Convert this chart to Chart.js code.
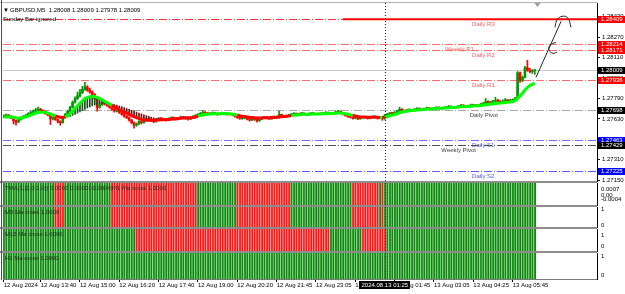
<!DOCTYPE html>
<html>
<head>
<meta charset="utf-8">
<title>GBPUSD,M5</title>
<script src="https://cdn.jsdelivr.net/npm/chart.js@4.4.1/dist/chart.umd.min.js"></script>
<style>
  body { margin: 0; background: #fff; }
  #wrap { position: relative; width: 625px; height: 294px; overflow: hidden; background: #fff; }
  #wrap canvas { position: absolute; left: 0; }
  .sep { position: absolute; background: #8c8c8c; }
</style>
</head>
<body>
<div id="wrap">
  <canvas id="main" width="625" height="186" style="top:0;width:625px;height:186px"></canvas>
  <canvas id="p0" width="625" height="30" style="top:179px;width:625px;height:30px"></canvas>
  <canvas id="p1" width="625" height="28" style="top:203px;width:625px;height:28px"></canvas>
  <canvas id="p2" width="625" height="30" style="top:225px;width:625px;height:30px"></canvas>
  <canvas id="p3" width="625" height="45" style="top:249px;width:625px;height:45px"></canvas>
  <div class="sep" style="left:0;top:181px;width:597px;height:2px"></div>
  <div class="sep" style="left:0;top:205px;width:597px;height:2px"></div>
  <div class="sep" style="left:0;top:227px;width:597px;height:2px"></div>
  <div class="sep" style="left:0;top:251px;width:597px;height:2px"></div>
  <div class="sep" style="left:0;top:2px;width:597px;height:1px;background:#b4b4b4"></div>
  <div class="sep" style="left:1px;top:0;width:1px;height:280px;background:#505050"></div>
</div>
<script>
// --- data (GBPUSD M5, 12 Aug 12:25 .. 13 Aug 06:25) ---
const symbolName = 'GBPUSD,M5';

const opens = [1.27648,1.27655,1.27660,1.27650,1.27640,1.27615,1.27605,1.27625,1.27640,1.27650,
1.27660,1.27672,1.27680,1.27690,1.27700,1.27705,1.27695,1.27688,1.27670,1.27660,
1.27630,1.27640,1.27625,1.27610,1.27600,1.27640,1.27665,1.27690,1.27720,1.27760,
1.27790,1.27810,1.27835,1.27860,1.27880,1.27855,1.27840,1.27820,1.27790,1.27720,
1.27740,1.27760,1.27745,1.27735,1.27720,1.27705,1.27690,1.27700,1.27680,1.27665,
1.27650,1.27640,1.27620,1.27600,1.27580,1.27590,1.27610,1.27600,1.27620,1.27630,
1.27625,1.27615,1.27610,1.27620,1.27635,1.27630,1.27625,1.27620,1.27632,1.27640,
1.27635,1.27628,1.27638,1.27645,1.27640,1.27632,1.27628,1.27638,1.27650,1.27658,
1.27665,1.27672,1.27680,1.27675,1.27668,1.27672,1.27678,1.27670,1.27665,1.27672,
1.27676,1.27670,1.27664,1.27668,1.27660,1.27650,1.27640,1.27632,1.27635,1.27640,
1.27628,1.27620,1.27630,1.27625,1.27615,1.27628,1.27640,1.27645,1.27635,1.27630,
1.27642,1.27648,1.27640,1.27665,1.27650,1.27645,1.27655,1.27660,1.27668,1.27672,
1.27665,1.27670,1.27675,1.27668,1.27662,1.27670,1.27675,1.27670,1.27665,1.27672,
1.27668,1.27675,1.27680,1.27672,1.27668,1.27675,1.27685,1.27690,1.27675,1.27665,
1.27655,1.27648,1.27642,1.27635,1.27640,1.27630,1.27638,1.27645,1.27640,1.27635,
1.27642,1.27650,1.27645,1.27635,1.27640,1.27630,1.27660,1.27668,1.27675,1.27672,
1.27680,1.27690,1.27705,1.27695,1.27690,1.27698,1.27700,1.27695,1.27705,1.27712,
1.27706,1.27700,1.27708,1.27715,1.27710,1.27705,1.27712,1.27720,1.27714,1.27710,
1.27716,1.27722,1.27728,1.27720,1.27716,1.27722,1.27730,1.27736,1.27730,1.27726,
1.27732,1.27740,1.27735,1.27732,1.27738,1.27745,1.27750,1.27765,1.27755,1.27762,
1.27768,1.27775,1.27768,1.27762,1.27770,1.27778,1.27770,1.27775,1.27780,1.27792,
1.27990,1.27930,1.27955,1.28030,1.28010,1.28000,1.28008];

const highs = [1.27662,1.27668,1.27664,1.27655,1.27645,1.27622,1.27630,1.27645,1.27656,1.27666,
1.27678,1.27688,1.27700,1.27712,1.27722,1.27712,1.27700,1.27692,1.27675,1.27664,
1.27648,1.27646,1.27630,1.27615,1.27645,1.27672,1.27698,1.27728,1.27770,1.27802,
1.27840,1.27860,1.27885,1.27916,1.27890,1.27870,1.27850,1.27828,1.27795,1.27752,
1.27770,1.27768,1.27752,1.27742,1.27726,1.27712,1.27708,1.27704,1.27686,1.27670,
1.27656,1.27645,1.27626,1.27606,1.27598,1.27616,1.27615,1.27626,1.27636,1.27636,
1.27630,1.27620,1.27626,1.27640,1.27640,1.27636,1.27630,1.27638,1.27646,1.27645,
1.27640,1.27642,1.27652,1.27650,1.27645,1.27638,1.27644,1.27656,1.27664,1.27672,
1.27680,1.27697,1.27686,1.27680,1.27678,1.27684,1.27682,1.27675,1.27678,1.27682,
1.27680,1.27674,1.27674,1.27670,1.27664,1.27654,1.27645,1.27640,1.27646,1.27644,
1.27632,1.27636,1.27634,1.27628,1.27634,1.27646,1.27650,1.27648,1.27640,1.27646,
1.27654,1.27652,1.27690,1.27668,1.27655,1.27660,1.27666,1.27672,1.27678,1.27676,
1.27675,1.27680,1.27678,1.27672,1.27675,1.27680,1.27678,1.27674,1.27676,1.27676,
1.27680,1.27686,1.27684,1.27676,1.27680,1.27690,1.27697,1.27692,1.27680,1.27668,
1.27660,1.27652,1.27646,1.27645,1.27644,1.27642,1.27650,1.27650,1.27645,1.27648,
1.27655,1.27654,1.27648,1.27646,1.27644,1.27665,1.27674,1.27680,1.27682,1.27686,
1.27696,1.27721,1.27710,1.27700,1.27704,1.27708,1.27705,1.27710,1.27718,1.27716,
1.27710,1.27714,1.27722,1.27720,1.27714,1.27718,1.27726,1.27724,1.27718,1.27722,
1.27728,1.27735,1.27732,1.27724,1.27728,1.27736,1.27744,1.27740,1.27734,1.27738,
1.27746,1.27745,1.27740,1.27744,1.27752,1.27758,1.27790,1.27770,1.27770,1.27775,
1.27799,1.27782,1.27772,1.27778,1.27790,1.27782,1.27782,1.27786,1.27798,1.28000,
1.27995,1.27965,1.28040,1.28088,1.28025,1.28015,1.28009];

const lows = [1.27642,1.27650,1.27645,1.27632,1.27590,1.27580,1.27600,1.27620,1.27636,1.27646,
1.27655,1.27668,1.27676,1.27686,1.27694,1.27690,1.27680,1.27664,1.27652,1.27585,
1.27622,1.27618,1.27598,1.27580,1.27596,1.27636,1.27660,1.27686,1.27715,1.27752,
1.27780,1.27800,1.27828,1.27852,1.27845,1.27830,1.27810,1.27780,1.27690,1.27712,
1.27735,1.27738,1.27728,1.27712,1.27698,1.27682,1.27684,1.27672,1.27658,1.27642,
1.27632,1.27612,1.27592,1.27557,1.27572,1.27585,1.27590,1.27596,1.27614,1.27618,
1.27608,1.27600,1.27604,1.27616,1.27624,1.27618,1.27612,1.27616,1.27628,1.27628,
1.27620,1.27622,1.27634,1.27634,1.27626,1.27620,1.27624,1.27634,1.27645,1.27654,
1.27660,1.27668,1.27670,1.27662,1.27664,1.27668,1.27664,1.27658,1.27660,1.27668,
1.27664,1.27658,1.27660,1.27654,1.27644,1.27634,1.27626,1.27626,1.27630,1.27622,
1.27612,1.27616,1.27618,1.27604,1.27610,1.27624,1.27636,1.27630,1.27624,1.27626,
1.27638,1.27634,1.27636,1.27645,1.27640,1.27640,1.27650,1.27655,1.27664,1.27660,
1.27660,1.27665,1.27662,1.27656,1.27658,1.27666,1.27664,1.27660,1.27662,1.27662,
1.27664,1.27670,1.27668,1.27662,1.27664,1.27670,1.27680,1.27670,1.27660,1.27650,
1.27642,1.27636,1.27628,1.27630,1.27624,1.27626,1.27634,1.27634,1.27628,1.27630,
1.27638,1.27640,1.27628,1.27630,1.27619,1.27626,1.27655,1.27662,1.27666,1.27668,
1.27676,1.27686,1.27690,1.27684,1.27686,1.27692,1.27690,1.27690,1.27700,1.27700,
1.27694,1.27696,1.27704,1.27705,1.27700,1.27702,1.27708,1.27708,1.27704,1.27706,
1.27712,1.27718,1.27714,1.27710,1.27712,1.27718,1.27726,1.27724,1.27720,1.27722,
1.27728,1.27730,1.27726,1.27728,1.27734,1.27740,1.27746,1.27750,1.27750,1.27756,
1.27762,1.27762,1.27756,1.27758,1.27765,1.27764,1.27766,1.27768,1.27775,1.27786,
1.27915,1.27920,1.27950,1.28002,1.27990,1.27985,1.27978];

const closes = [1.27655,1.27660,1.27650,1.27640,1.27615,1.27605,1.27625,1.27640,1.27650,1.27660,
1.27672,1.27680,1.27690,1.27700,1.27705,1.27695,1.27688,1.27670,1.27660,1.27630,
1.27640,1.27625,1.27610,1.27600,1.27640,1.27665,1.27690,1.27720,1.27760,1.27790,
1.27810,1.27835,1.27860,1.27880,1.27855,1.27840,1.27820,1.27790,1.27720,1.27740,
1.27760,1.27745,1.27735,1.27720,1.27705,1.27690,1.27700,1.27680,1.27665,1.27650,
1.27640,1.27620,1.27600,1.27580,1.27590,1.27610,1.27600,1.27620,1.27630,1.27625,
1.27615,1.27610,1.27620,1.27635,1.27630,1.27625,1.27620,1.27632,1.27640,1.27635,
1.27628,1.27638,1.27645,1.27640,1.27632,1.27628,1.27638,1.27650,1.27658,1.27665,
1.27672,1.27680,1.27675,1.27668,1.27672,1.27678,1.27670,1.27665,1.27672,1.27676,
1.27670,1.27664,1.27668,1.27660,1.27650,1.27640,1.27632,1.27635,1.27640,1.27628,
1.27620,1.27630,1.27625,1.27615,1.27628,1.27640,1.27645,1.27635,1.27630,1.27642,
1.27648,1.27640,1.27665,1.27650,1.27645,1.27655,1.27660,1.27668,1.27672,1.27665,
1.27670,1.27675,1.27668,1.27662,1.27670,1.27675,1.27670,1.27665,1.27672,1.27668,
1.27675,1.27680,1.27672,1.27668,1.27675,1.27685,1.27690,1.27675,1.27665,1.27655,
1.27648,1.27642,1.27635,1.27640,1.27630,1.27638,1.27645,1.27640,1.27635,1.27642,
1.27650,1.27645,1.27635,1.27640,1.27630,1.27660,1.27668,1.27675,1.27672,1.27680,
1.27690,1.27705,1.27695,1.27690,1.27698,1.27700,1.27695,1.27705,1.27712,1.27706,
1.27700,1.27708,1.27715,1.27710,1.27705,1.27712,1.27720,1.27714,1.27710,1.27716,
1.27722,1.27728,1.27720,1.27716,1.27722,1.27730,1.27736,1.27730,1.27726,1.27732,
1.27740,1.27735,1.27732,1.27738,1.27745,1.27750,1.27765,1.27755,1.27762,1.27768,
1.27775,1.27768,1.27762,1.27770,1.27778,1.27770,1.27775,1.27780,1.27792,1.27990,
1.27930,1.27955,1.28030,1.28010,1.28000,1.28008,1.28009];

// fast moving average (thick line)
const maValues = [1.27645,1.27645,1.27646,1.27645,1.27642,1.27638,1.27636,1.27637,1.27640,1.27645,
1.27652,1.27660,1.27668,1.27675,1.27680,1.27682,1.27682,1.27680,1.27675,1.27668,
1.27660,1.27653,1.27647,1.27642,1.27640,1.27645,1.27655,1.27670,1.27690,1.27712,
1.27733,1.27752,1.27770,1.27790,1.27798,1.27803,1.27806,1.27805,1.27798,1.27789,
1.27779,1.27768,1.27757,1.27746,1.27735,1.27724,1.27713,1.27703,1.27693,1.27683,
1.27674,1.27665,1.27656,1.27647,1.27639,1.27632,1.27626,1.27622,1.27620,1.27619,
1.27619,1.27619,1.27620,1.27621,1.27622,1.27623,1.27624,1.27625,1.27627,1.27629,
1.27631,1.27633,1.27635,1.27637,1.27638,1.27638,1.27639,1.27641,1.27645,1.27650,
1.27655,1.27660,1.27664,1.27666,1.27668,1.27669,1.27670,1.27670,1.27670,1.27671,
1.27671,1.27670,1.27669,1.27667,1.27664,1.27660,1.27655,1.27651,1.27648,1.27645,
1.27642,1.27640,1.27638,1.27636,1.27636,1.27637,1.27638,1.27639,1.27639,1.27640,
1.27641,1.27642,1.27645,1.27647,1.27649,1.27651,1.27653,1.27656,1.27659,1.27661,
1.27663,1.27665,1.27666,1.27666,1.27666,1.27667,1.27668,1.27668,1.27668,1.27668,
1.27669,1.27670,1.27671,1.27671,1.27671,1.27673,1.27675,1.27675,1.27673,1.27670,
1.27666,1.27661,1.27656,1.27652,1.27648,1.27646,1.27645,1.27644,1.27643,1.27643,
1.27643,1.27643,1.27642,1.27641,1.27640,1.27643,1.27648,1.27654,1.27659,1.27664,
1.27670,1.27677,1.27683,1.27687,1.27690,1.27693,1.27695,1.27697,1.27699,1.27701,
1.27702,1.27703,1.27705,1.27707,1.27708,1.27709,1.27711,1.27712,1.27713,1.27714,
1.27715,1.27717,1.27718,1.27719,1.27720,1.27722,1.27724,1.27725,1.27726,1.27727,
1.27729,1.27731,1.27732,1.27733,1.27735,1.27737,1.27740,1.27743,1.27745,1.27747,
1.27750,1.27752,1.27754,1.27756,1.27758,1.27760,1.27762,1.27765,1.27770,1.27790,
1.27810,1.27830,1.27855,1.27875,1.27890,1.27900,1.27910];

// slow moving average, only where the ribbon is visible (bars 24..66)
const slowStart = 24;
const slowMa = [1.27641,1.27642,1.27645,1.27650,1.27657,1.27665,
1.27674,1.27684,1.27694,1.27704,1.27714,1.27723,1.27731,1.27738,1.27743,1.27747,
1.27750,1.27751,1.27751,1.27749,1.27746,1.27742,1.27737,1.27731,1.27725,1.27718,
1.27711,1.27704,1.27697,1.27690,1.27683,1.27676,1.27669,1.27662,1.27655,1.27649,
1.27643,1.27638,1.27634,1.27630,1.27627,1.27625,1.27624];

// pivot levels
const levelNames = ['Daily R3', 'Weekly R1', 'Daily R2', 'Daily R1', 'Daily Pivot', 'Daily S1', 'Weekly Pivot', 'Daily S2'];
const levelValues = [1.28409, 1.28214, 1.28171, 1.27936, 1.27698, 1.27463, 1.27429, 1.27225];

const priceTicks = [1.27150, 1.27310, 1.27470, 1.27630, 1.27790, 1.27950, 1.28110, 1.28270, 1.28430];

const timeTickIdx = [0, 15, 31, 47, 63, 79, 95, 111, 127, 143, 159, 175, 191, 207];
const timeTickLabels = ['12 Aug 2024', '12 Aug 13:40', '12 Aug 15:00', '12 Aug 16:20', '12 Aug 17:40',
  '12 Aug 19:00', '12 Aug 20:20', '12 Aug 21:45', '12 Aug 23:05', '13 Aug 00:25', '13 Aug 01:45',
  '13 Aug 03:05', '13 Aug 04:25', '13 Aug 05:45'];

const vLineIndex = 155;
const vLineLabel = '2024.08.13 01:25';

// bar ranges where each indicator panel is bearish (red)
const tmaRed = [[21, 24], [44, 78], [95, 116], [142, 152], [154, 154]];
const m5Red = [[21, 24], [44, 78], [95, 116], [142, 152], [154, 154]];
const m15Red = [[54, 132], [146, 155]];
const h1Red = [];

const panelTexts = [
  ['TMA(1,[2,0,1,0]) 0.0007 0.0000(-0.0004)', 'M1 Ma cross 1.0000'],
  ['M5 Ma cross 1.0000'],
  ['M15 Ma cross 1.0000'],
  ['H1 Ma cross 1.0000']
];
const panelTickVals = [[0.0007, 0, -0.0004], [1, 0], [1, 0], [1, 0]];
const panelTickLabels = [['0.0007', '0.00', '-0.0004'], ['1', '0'], ['1', '0'], ['1', '0']];

// hand drawn arrow (bar index, price)
const arrowStrokes = [
  [[216.5, 1.27955], [226.7, 1.28393]],
  [[224.2, 1.28346], [225.0, 1.28401], [227.1, 1.28432], [229.5, 1.28417], [230.7, 1.28346]],
  [[224.6, 1.28229], [222.2, 1.28206], [221.8, 1.28167], [223.4, 1.28143], [225.0, 1.28151]]
];
const r3LineFrom = 138;

// --- layout / style ---
const FONT = '"Liberation Sans", Arial, sans-serif';
const lastSlot = 241.3;
const N = closes.length;
const lastPrice = closes[N - 1];

const levelStyles = [
  { line: '#ff3030', text: '#ff5a5a', box: '#ff0000', at: 190.5 },
  { line: '#ff6a6a', text: '#ff5a5a', box: '#ff0000', at: 179.5 },
  { line: '#ff6a6a', text: '#ff5a5a', box: '#ff0000', at: 190.5 },
  { line: '#ff6a6a', text: '#ff5a5a', box: '#ff0000', at: 190.5 },
  { line: '#a8a8a8', text: '#404040', box: '#000000', at: 189.5 },
  { line: '#7070ff', text: '#5050ff', box: '#0000ff', at: 190.5 },
  { line: '#505050', text: '#404040', box: '#000000', at: 178 },
  { line: '#5a5aff', text: '#5050ff', box: '#0000ff', at: 190.5 }
];

Chart.defaults.font.family = FONT;
Chart.defaults.font.size = 6;
Chart.defaults.animation = false;
Chart.defaults.plugins.legend.display = false;
Chart.defaults.plugins.tooltip.enabled = false;

function stateFrom(redRanges) {
  return closes.map((_, i) => redRanges.some(r => i >= r[0] && i <= r[1]) ? -1 : 1);
}
const panelStates = [stateFrom(tmaRed), stateFrom(m5Red), stateFrom(m15Red), stateFrom(h1Red)];
const m5State = panelStates[1];

function timeAxis(show) {
  return {
    type: 'linear', min: -0.3, max: lastSlot, display: show, offset: false,
    grid: { drawOnChartArea: false, tickLength: 3, color: '#000', offset: false },
    border: { display: true, color: '#7a7a7a' },
    afterBuildTicks: ax => { ax.ticks = timeTickIdx.map(v => ({ value: v })); },
    afterFit: ax => { ax.height = show ? 15 : 0; ax.paddingLeft = 0; ax.paddingRight = 0; },
    ticks: {
      autoSkip: false, maxRotation: 0, minRotation: 0, align: 'start', padding: 0,
      color: '#000', font: { size: 6 },
      callback: (v, i) => timeTickLabels[i]
    }
  };
}

const vlinePlugin = {
  id: 'vline',
  afterDatasetsDraw(chart) {
    const { ctx, chartArea: a, scales: { x } } = chart;
    const px = Math.round(x.getPixelForValue(vLineIndex)) + 0.5;
    ctx.save();
    ctx.strokeStyle = '#202020';
    ctx.lineWidth = 1;
    ctx.setLineDash([1, 2]);
    ctx.beginPath();
    ctx.moveTo(px, a.top);
    ctx.lineTo(px, a.bottom);
    ctx.stroke();
    ctx.restore();
  }
};

// pivot lines, their names, price boxes and the header text
const mainDecor = {
  id: 'mainDecor',
  beforeDatasetsDraw(chart) {
    const { ctx, chartArea: a, scales: { x, y } } = chart;
    ctx.save();
    ctx.lineWidth = 1;
    let py = Math.round(y.getPixelForValue(lastPrice)) + 0.5;
    ctx.strokeStyle = '#c8c8c8';
    ctx.beginPath(); ctx.moveTo(a.left, py); ctx.lineTo(a.right, py); ctx.stroke();
    ctx.font = '6px ' + FONT;
    ctx.textBaseline = 'top';
    levelValues.forEach((v, k) => {
      const st = levelStyles[k];
      py = Math.round(y.getPixelForValue(v)) + 0.5;
      ctx.strokeStyle = st.line;
      ctx.setLineDash([8, 2, 1, 2]);
      ctx.beginPath(); ctx.moveTo(a.left, py); ctx.lineTo(a.right, py); ctx.stroke();
      ctx.setLineDash([]);
      ctx.fillStyle = st.text;
      ctx.fillText(levelNames[k], x.getPixelForValue(st.at), py + 1.5);
    });
    ctx.restore();
  },
  afterDraw(chart) {
    const { ctx, chartArea: a, scales: { x, y } } = chart;
    ctx.save();
    ctx.font = '6px ' + FONT;
    ctx.textBaseline = 'middle';
    const boxes = levelValues.map((v, k) => ({ v, c: levelStyles[k].box }));
    boxes.push({ v: lastPrice, c: '#000000' });
    boxes.forEach(b => {
      const py = Math.round(y.getPixelForValue(b.v));
      ctx.fillStyle = b.c;
      ctx.fillRect(a.right + 1, py - 3, 27, 7);
      ctx.fillStyle = '#fff';
      ctx.fillText(b.v.toFixed(5), a.right + 4, py + 0.5);
    });
    ctx.fillStyle = '#000';
    ctx.fillText('\u25BC', 3, 10.5);
    ctx.fillText(symbolName + '  ' + [opens[N - 1], highs[N - 1], lows[N - 1], closes[N - 1]]
      .map(v => v.toFixed(5)).join(' '), 10, 10.5);
    ctx.fillText('Sunday Bar ignored', 3, 19);
    // chart shift marker above the newest bar
    const mx = Math.round(x.getPixelForValue(N)) + 0.5;
    ctx.fillStyle = '#9a9a9a';
    ctx.beginPath();
    ctx.moveTo(mx - 3, a.top);
    ctx.lineTo(mx + 3, a.top);
    ctx.lineTo(mx, a.top + 4);
    ctx.closePath();
    ctx.fill();
    ctx.restore();
  }
};

const candleColor = c => closes[c.dataIndex] >= opens[c.dataIndex] ? '#009a00' : '#ff0000';

new Chart(document.getElementById('main'), {
  type: 'bar',
  data: {
    datasets: [
      ...arrowStrokes.map(s => ({
        type: 'line', data: s.map(p => ({ x: p[0], y: p[1] })),
        borderColor: '#222', borderWidth: 1, pointRadius: 0, tension: 0.45, order: 1
      })),
      {
        type: 'line', data: [{ x: r3LineFrom, y: levelValues[0] }, { x: lastSlot, y: levelValues[0] }],
        borderColor: '#ff0000', borderWidth: 2, pointRadius: 0, order: 2
      },
      {
        type: 'line', data: maValues.map((v, i) => ({ x: i, y: v })),
        borderColor: '#00ff00', borderWidth: 3, pointRadius: 0, order: 3,
        segment: { borderColor: c => m5State[c.p0DataIndex] > 0 ? '#00ff00' : '#ff0000' }
      },
      {
        type: 'bar', grouped: false, barThickness: 1, order: 4,
        data: slowMa.map((v, k) => ({ x: slowStart + k, y: [v, maValues[slowStart + k]] })),
        backgroundColor: c => maValues[slowStart + c.dataIndex] >= slowMa[c.dataIndex] ? '#1d4d1d' : '#6b1010'
      },
      {
        type: 'bar', grouped: false, barThickness: 2, minBarLength: 1, order: 5,
        data: closes.map((v, i) => ({ x: i, y: [opens[i], v] })),
        backgroundColor: candleColor
      },
      {
        type: 'bar', grouped: false, barThickness: 1, order: 6,
        data: closes.map((v, i) => ({ x: i, y: [lows[i], highs[i]] })),
        backgroundColor: candleColor
      }
    ]
  },
  options: {
    responsive: false, devicePixelRatio: 1,
    layout: { padding: { left: 3, top: 3, right: 0, bottom: 5 } },
    scales: {
      x: timeAxis(false),
      y: {
        position: 'right', min: 1.27144, max: 1.28536,
        grid: { drawOnChartArea: false, tickLength: 3, color: '#000' },
        border: { color: '#000' },
        afterBuildTicks: ax => { ax.ticks = priceTicks.map(v => ({ value: v })); },
        afterFit: ax => { ax.width = 28; ax.paddingTop = 0; ax.paddingBottom = 0; },
        ticks: { autoSkip: false, padding: 2, color: '#000', font: { size: 6 }, callback: v => v.toFixed(5) }
      }
    }
  },
  plugins: [mainDecor, vlinePlugin]
});

// indicator panels
const panelLimits = [[-0.00103, 0.00141], [-0.125, 1.125], [-0.37, 1.51], [-0.22, 1.2]];
const panelTextX = [[2, 109], [2], [2], [2]];

const timeBox = {
  id: 'timeBox',
  afterDraw(chart) {
    const { ctx, chartArea: a, scales: { x } } = chart;
    const px = x.getPixelForValue(vLineIndex);
    ctx.save();
    ctx.font = '6px ' + FONT;
    const w = Math.round(ctx.measureText(vLineLabel).width + 4);
    ctx.fillStyle = '#000';
    ctx.fillRect(Math.round(px - w / 2), a.bottom + 2, w, 8);
    ctx.fillStyle = '#fff';
    ctx.textAlign = 'center';
    ctx.textBaseline = 'middle';
    ctx.fillText(vLineLabel, px, a.bottom + 6.5);
    ctx.restore();
  }
};

['p0', 'p1', 'p2', 'p3'].forEach((id, k) => {
  const bottom = k === 3;
  const [lo, hi] = panelLimits[k];
  const state = panelStates[k];
  const textPlugin = {
    id: 'panelText' + k,
    afterDatasetsDraw(chart) {
      const { ctx, chartArea: a } = chart;
      ctx.save();
      ctx.font = '6px ' + FONT;
      ctx.fillStyle = '#1c2e1c';
      ctx.textBaseline = 'middle';
      panelTexts[k].forEach((t, j) => ctx.fillText(t, a.left + panelTextX[k][j], a.top + 5.5));
      ctx.restore();
    }
  };
  new Chart(document.getElementById(id), {
    type: 'bar',
    data: {
      datasets: [{
        data: state.map((s, i) => ({ x: i, y: [lo, hi] })),
        backgroundColor: c => state[c.dataIndex] > 0 ? '#0e870e' : '#ff1414',
        borderColor: c => state[c.dataIndex] > 0 ? '#8fd48f' : '#ff9a9a',
        borderWidth: { left: 1, right: 0, top: 0, bottom: 0 },
        borderSkipped: false,
        barPercentage: 1, categoryPercentage: 1, grouped: false
      }]
    },
    options: {
      responsive: false, devicePixelRatio: 1,
      layout: { padding: { left: 3, top: 4, right: 0, bottom: bottom ? 0 : 4 } },
      scales: {
        x: timeAxis(bottom),
        y: {
          position: 'right', min: lo, max: hi,
          grid: { drawOnChartArea: false, drawTicks: false },
          border: { color: '#000' },
          afterBuildTicks: ax => { ax.ticks = panelTickVals[k].map(v => ({ value: v })); },
          afterFit: ax => { ax.width = 28; ax.paddingTop = 0; ax.paddingBottom = 0; },
          ticks: { autoSkip: false, padding: 4, color: '#000', font: { size: 6 }, callback: (v, i) => panelTickLabels[k][i] }
        }
      }
    },
    plugins: bottom ? [textPlugin, vlinePlugin, timeBox] : [textPlugin, vlinePlugin]
  });
});
</script>
</body>
</html>
